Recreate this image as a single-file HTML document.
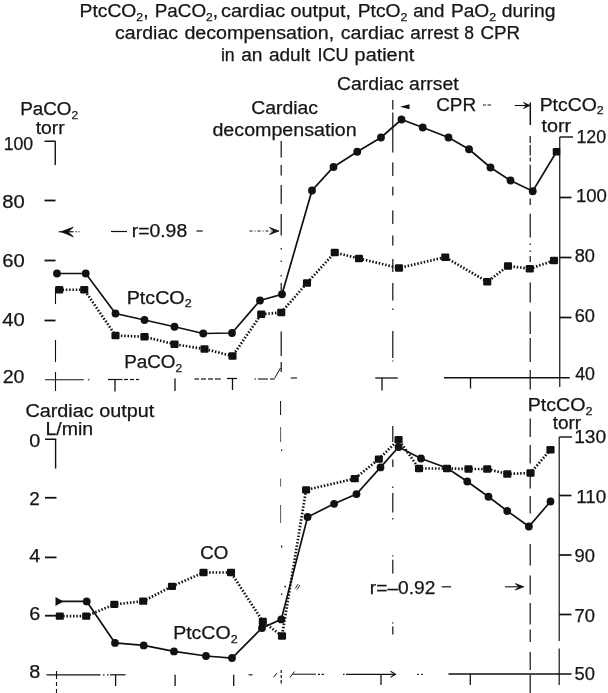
<!DOCTYPE html>
<html><head><meta charset="utf-8"><title>PtcCO2 chart</title>
<style>html,body{margin:0;padding:0;background:#fff}svg{display:block}text{fill:#151515;stroke:#151515;stroke-width:0.25px}</style></head><body>
<svg width="608" height="693" viewBox="0 0 608 693" font-family="Liberation Sans, Arial, sans-serif" fill="#111" stroke="#111">
<rect x="0" y="0" width="608" height="693" fill="#fff" stroke="none"/>
<text x="79.60" y="16.85" font-size="18" textLength="69.00" lengthAdjust="spacingAndGlyphs">PtcCO<tspan font-size="11.5" dy="3.8">2</tspan><tspan dy="-3.8">,</tspan></text>
<text x="154.80" y="16.85" font-size="18" textLength="63.20" lengthAdjust="spacingAndGlyphs">PaCO<tspan font-size="11.5" dy="3.8">2</tspan><tspan dy="-3.8">,</tspan></text>
<text x="221.00" y="16.85" font-size="18" textLength="64.20" lengthAdjust="spacingAndGlyphs">cardiac</text>
<text x="290.60" y="16.85" font-size="18" textLength="60.40" lengthAdjust="spacingAndGlyphs">output,</text>
<text x="357.70" y="16.85" font-size="18" textLength="49.70" lengthAdjust="spacingAndGlyphs">PtcO<tspan font-size="11.5" dy="3.8">2</tspan></text>
<text x="413.20" y="16.85" font-size="18" textLength="31.20" lengthAdjust="spacingAndGlyphs">and</text>
<text x="450.90" y="16.85" font-size="18" textLength="45.10" lengthAdjust="spacingAndGlyphs">PaO<tspan font-size="11.5" dy="3.8">2</tspan></text>
<text x="501.80" y="16.85" font-size="18" textLength="53.60" lengthAdjust="spacingAndGlyphs">during</text>
<text x="115.10" y="39.35" font-size="18" textLength="62.90" lengthAdjust="spacingAndGlyphs">cardiac</text>
<text x="184.40" y="39.35" font-size="18" textLength="149.80" lengthAdjust="spacingAndGlyphs">decompensation,</text>
<text x="340.80" y="39.35" font-size="18" textLength="63.20" lengthAdjust="spacingAndGlyphs">cardiac</text>
<text x="410.20" y="39.35" font-size="18" textLength="48.40" lengthAdjust="spacingAndGlyphs">arrest</text>
<text x="464.20" y="39.35" font-size="18" textLength="9.70" lengthAdjust="spacingAndGlyphs">8</text>
<text x="480.40" y="39.35" font-size="18" textLength="39.60" lengthAdjust="spacingAndGlyphs">CPR</text>
<text x="220.90" y="61.35" font-size="18" textLength="13.80" lengthAdjust="spacingAndGlyphs">in</text>
<text x="241.20" y="61.35" font-size="18" textLength="21.30" lengthAdjust="spacingAndGlyphs">an</text>
<text x="268.90" y="61.35" font-size="18" textLength="41.30" lengthAdjust="spacingAndGlyphs">adult</text>
<text x="317.40" y="61.35" font-size="18" textLength="31.10" lengthAdjust="spacingAndGlyphs">ICU</text>
<text x="354.60" y="61.35" font-size="18" textLength="59.60" lengthAdjust="spacingAndGlyphs">patient</text>
<text x="20.20" y="114.85" font-size="18" textLength="58.00" lengthAdjust="spacingAndGlyphs">PaCO<tspan font-size="11.5" dy="3.8">2</tspan></text>
<text x="35.70" y="134.35" font-size="18" textLength="29.00" lengthAdjust="spacingAndGlyphs">torr</text>
<text x="3.70" y="150.10" font-size="18" textLength="29.50" lengthAdjust="spacingAndGlyphs">100</text>
<text x="2.20" y="207.85" font-size="18" textLength="22.50" lengthAdjust="spacingAndGlyphs">80</text>
<text x="2.20" y="266.60" font-size="18" textLength="22.50" lengthAdjust="spacingAndGlyphs">60</text>
<text x="2.20" y="325.60" font-size="18" textLength="22.50" lengthAdjust="spacingAndGlyphs">40</text>
<text x="2.70" y="383.35" font-size="18" textLength="21.75" lengthAdjust="spacingAndGlyphs">20</text>
<text x="251.20" y="114.35" font-size="18" textLength="66.75" lengthAdjust="spacingAndGlyphs">Cardiac</text>
<text x="212.45" y="135.60" font-size="18" textLength="144.25" lengthAdjust="spacingAndGlyphs">decompensation</text>
<text x="336.95" y="90.10" font-size="18" textLength="121.75" lengthAdjust="spacingAndGlyphs">Cardiac arrset</text>
<text x="436.20" y="111.10" font-size="18" textLength="40.00" lengthAdjust="spacingAndGlyphs">CPR</text>
<text x="539.70" y="110.60" font-size="18" textLength="64.00" lengthAdjust="spacingAndGlyphs">PtcCO<tspan font-size="11.5" dy="3.8">2</tspan></text>
<text x="541.45" y="132.35" font-size="18" textLength="29.75" lengthAdjust="spacingAndGlyphs">torr</text>
<text x="576.45" y="143.10" font-size="18" textLength="29.75" lengthAdjust="spacingAndGlyphs">120</text>
<text x="575.95" y="201.85" font-size="18" textLength="31.00" lengthAdjust="spacingAndGlyphs">100</text>
<text x="574.70" y="262.35" font-size="18" textLength="20.25" lengthAdjust="spacingAndGlyphs">80</text>
<text x="574.70" y="321.60" font-size="18" textLength="20.25" lengthAdjust="spacingAndGlyphs">60</text>
<text x="575.20" y="379.60" font-size="18" textLength="19.75" lengthAdjust="spacingAndGlyphs">40</text>
<text x="131.70" y="237.35" font-size="18" textLength="55.50" lengthAdjust="spacingAndGlyphs">r=0.98</text>
<text x="126.70" y="303.60" font-size="18" textLength="65.00" lengthAdjust="spacingAndGlyphs">PtcCO<tspan font-size="11.5" dy="3.8">2</tspan></text>
<text x="124.20" y="367.85" font-size="18" textLength="58.00" lengthAdjust="spacingAndGlyphs">PaCO<tspan font-size="11.5" dy="3.8">2</tspan></text>
<text x="25.45" y="416.60" font-size="18" textLength="128.75" lengthAdjust="spacingAndGlyphs">Cardiac output</text>
<text x="45.45" y="435.35" font-size="18" textLength="47.75" lengthAdjust="spacingAndGlyphs">L/min</text>
<text x="29.20" y="446.60" font-size="18" textLength="11.00" lengthAdjust="spacingAndGlyphs">0</text>
<text x="29.20" y="504.60" font-size="18" textLength="10.50" lengthAdjust="spacingAndGlyphs">2</text>
<text x="29.20" y="562.30" font-size="18" textLength="11.00" lengthAdjust="spacingAndGlyphs">4</text>
<text x="29.20" y="620.10" font-size="18" textLength="11.00" lengthAdjust="spacingAndGlyphs">6</text>
<text x="29.20" y="678.40" font-size="18" textLength="11.00" lengthAdjust="spacingAndGlyphs">8</text>
<text x="200.20" y="559.00" font-size="18" textLength="28.00" lengthAdjust="spacingAndGlyphs">CO</text>
<text x="173.20" y="638.90" font-size="18" textLength="64.40" lengthAdjust="spacingAndGlyphs">PtcCO<tspan font-size="11.5" dy="3.8">2</tspan></text>
<text x="527.70" y="411.10" font-size="18" textLength="64.75" lengthAdjust="spacingAndGlyphs">PtcCO<tspan font-size="11.5" dy="3.8">2</tspan></text>
<text x="552.70" y="428.60" font-size="18" textLength="28.50" lengthAdjust="spacingAndGlyphs">torr</text>
<text x="574.20" y="443.40" font-size="18" textLength="32.00" lengthAdjust="spacingAndGlyphs">130</text>
<text x="576.20" y="502.60" font-size="18" textLength="30.00" lengthAdjust="spacingAndGlyphs">110</text>
<text x="574.50" y="562.30" font-size="18" textLength="20.40" lengthAdjust="spacingAndGlyphs">90</text>
<text x="574.50" y="621.90" font-size="18" textLength="20.40" lengthAdjust="spacingAndGlyphs">70</text>
<text x="574.50" y="679.60" font-size="18" textLength="20.40" lengthAdjust="spacingAndGlyphs">50</text>
<text x="369.80" y="594.20" font-size="18" textLength="65.60" lengthAdjust="spacingAndGlyphs">r=–0.92</text>
<line x1="44.50" y1="141.25" x2="55.50" y2="141.25" stroke-width="1.5"/>
<line x1="55.25" y1="141.25" x2="55.25" y2="165.00" stroke-width="1.4"/>
<line x1="44.50" y1="200.50" x2="55.50" y2="200.50" stroke-width="1.8"/>
<line x1="44.50" y1="260.50" x2="55.50" y2="260.50" stroke-width="1.8"/>
<line x1="44.50" y1="320.50" x2="55.50" y2="320.50" stroke-width="1.8"/>
<line x1="55.50" y1="288.00" x2="55.50" y2="304.00" stroke-width="1.1"/>
<line x1="55.50" y1="340.00" x2="55.50" y2="362.00" stroke-width="1.1"/>
<line x1="55.50" y1="372.00" x2="55.50" y2="391.00" stroke-width="1.1"/>
<line x1="45.00" y1="379.75" x2="83.75" y2="379.75" stroke-width="1.2"/>
<line x1="88.00" y1="379.75" x2="89.50" y2="379.75" stroke-width="1.2"/>
<line x1="108.00" y1="379.50" x2="122.50" y2="379.50" stroke-width="1.2"/>
<line x1="124.00" y1="379.50" x2="128.00" y2="379.50" stroke-width="1.2"/>
<line x1="130.00" y1="379.50" x2="134.00" y2="379.50" stroke-width="1.2"/>
<line x1="136.00" y1="379.50" x2="139.00" y2="379.50" stroke-width="1.2"/>
<line x1="115.00" y1="379.50" x2="115.00" y2="391.50" stroke-width="1.3"/>
<line x1="175.00" y1="378.50" x2="175.00" y2="391.00" stroke-width="1.3"/>
<line x1="194.50" y1="379.00" x2="199.00" y2="379.00" stroke-width="1.2"/>
<line x1="201.00" y1="379.00" x2="206.00" y2="379.00" stroke-width="1.2"/>
<line x1="208.00" y1="379.00" x2="213.00" y2="379.00" stroke-width="1.2"/>
<line x1="215.00" y1="379.00" x2="220.75" y2="379.00" stroke-width="1.2"/>
<line x1="227.00" y1="378.50" x2="237.00" y2="378.50" stroke-width="1.3"/>
<line x1="232.50" y1="378.50" x2="232.50" y2="390.00" stroke-width="1.3"/>
<line x1="254.50" y1="379.00" x2="256.00" y2="379.00" stroke-width="1.1"/>
<line x1="258.00" y1="379.00" x2="268.00" y2="379.00" stroke-width="1.1"/>
<line x1="270.00" y1="379.00" x2="274.50" y2="379.00" stroke-width="1.1"/>
<line x1="274.50" y1="378.50" x2="280.50" y2="368.00" stroke-width="1"/>
<line x1="290.75" y1="378.00" x2="297.00" y2="378.00" stroke-width="1.1"/>
<line x1="375.25" y1="378.00" x2="397.75" y2="378.00" stroke-width="1.3"/>
<line x1="382.00" y1="378.00" x2="382.00" y2="390.50" stroke-width="1.3"/>
<line x1="444.00" y1="377.75" x2="569.75" y2="377.75" stroke-width="1.3"/>
<line x1="470.50" y1="377.75" x2="470.50" y2="388.50" stroke-width="1.3"/>
<line x1="559.75" y1="137.00" x2="559.75" y2="387.00" stroke-width="1.2"/>
<line x1="559.75" y1="137.00" x2="573.00" y2="137.00" stroke-width="1.4"/>
<line x1="559.75" y1="197.50" x2="571.50" y2="197.50" stroke-width="1.7"/>
<line x1="559.75" y1="257.50" x2="571.50" y2="257.50" stroke-width="1.7"/>
<line x1="559.75" y1="317.50" x2="571.50" y2="317.50" stroke-width="1.7"/>
<line x1="281.20" y1="141.00" x2="281.20" y2="157.50" stroke-width="1.2"/>
<line x1="281.20" y1="165.00" x2="281.20" y2="175.50" stroke-width="1.2"/>
<line x1="281.20" y1="185.00" x2="281.20" y2="204.00" stroke-width="1.2"/>
<line x1="281.20" y1="214.00" x2="281.20" y2="235.50" stroke-width="1.2"/>
<line x1="281.20" y1="283.00" x2="281.20" y2="290.50" stroke-width="1.2"/>
<line x1="281.20" y1="331.50" x2="281.20" y2="356.00" stroke-width="1.2"/>
<line x1="281.20" y1="362.00" x2="281.20" y2="372.00" stroke-width="1.2"/>
<line x1="281.20" y1="670.00" x2="281.20" y2="673.00" stroke-width="1.2"/>
<line x1="281.20" y1="675.00" x2="281.20" y2="678.00" stroke-width="1.2"/>
<line x1="281.20" y1="680.00" x2="281.20" y2="683.50" stroke-width="1.2"/>
<line x1="280.60" y1="401.00" x2="280.60" y2="415.00" stroke-width="1"/>
<line x1="280.60" y1="427.00" x2="280.60" y2="442.00" stroke-width="0.7"/>
<line x1="280.60" y1="478.50" x2="280.60" y2="486.50" stroke-width="0.7"/>
<line x1="280.60" y1="505.00" x2="280.60" y2="523.00" stroke-width="0.7"/>
<line x1="281.20" y1="248.00" x2="281.20" y2="249.50" stroke-width="1.2"/>
<line x1="281.20" y1="260.50" x2="281.20" y2="262.00" stroke-width="1.2"/>
<line x1="281.20" y1="275.00" x2="281.20" y2="276.50" stroke-width="1.2"/>
<line x1="281.60" y1="449.50" x2="281.60" y2="451.00" stroke-width="1.2"/>
<line x1="281.60" y1="545.50" x2="281.60" y2="547.50" stroke-width="1.2"/>
<line x1="281.60" y1="593.50" x2="281.60" y2="595.00" stroke-width="1.2"/>
<circle cx="285.2" cy="586.6" r="0.9" stroke="none"/>
<line x1="295.20" y1="588.50" x2="298.20" y2="584.00" stroke-width="0.9"/>
<line x1="297.00" y1="589.50" x2="300.00" y2="585.00" stroke-width="0.9"/>
<line x1="392.80" y1="100.00" x2="392.80" y2="109.50" stroke-width="1.2"/>
<line x1="392.80" y1="112.50" x2="392.80" y2="152.50" stroke-width="1.2"/>
<line x1="392.80" y1="162.50" x2="392.80" y2="176.00" stroke-width="1.2"/>
<line x1="392.80" y1="186.75" x2="392.80" y2="195.50" stroke-width="1.2"/>
<line x1="392.80" y1="210.50" x2="392.80" y2="224.00" stroke-width="1.2"/>
<line x1="392.80" y1="235.50" x2="392.80" y2="245.50" stroke-width="1.2"/>
<line x1="392.80" y1="259.00" x2="392.80" y2="272.00" stroke-width="1.2"/>
<line x1="392.80" y1="283.00" x2="392.80" y2="300.50" stroke-width="1.2"/>
<line x1="392.80" y1="308.50" x2="392.80" y2="310.00" stroke-width="1.2"/>
<line x1="392.80" y1="331.00" x2="392.80" y2="358.00" stroke-width="1.2"/>
<line x1="392.80" y1="360.50" x2="392.80" y2="361.50" stroke-width="1.2"/>
<line x1="392.80" y1="426.00" x2="392.80" y2="442.00" stroke-width="1.2"/>
<line x1="392.80" y1="459.50" x2="392.80" y2="467.00" stroke-width="1.2"/>
<line x1="392.80" y1="486.50" x2="392.80" y2="488.00" stroke-width="1.2"/>
<line x1="392.80" y1="493.00" x2="392.80" y2="512.50" stroke-width="1.2"/>
<line x1="392.80" y1="518.00" x2="392.80" y2="519.50" stroke-width="1.2"/>
<line x1="392.80" y1="555.30" x2="392.80" y2="556.50" stroke-width="1.2"/>
<line x1="392.80" y1="559.80" x2="392.80" y2="573.50" stroke-width="1.2"/>
<line x1="392.80" y1="622.30" x2="392.80" y2="623.50" stroke-width="1.2"/>
<line x1="392.80" y1="626.50" x2="392.80" y2="634.50" stroke-width="1.2"/>
<line x1="530.30" y1="102.50" x2="530.30" y2="125.00" stroke-width="1.5"/>
<line x1="530.20" y1="136.00" x2="530.20" y2="143.00" stroke-width="1.2"/>
<line x1="530.20" y1="145.00" x2="530.20" y2="155.40" stroke-width="1.2"/>
<line x1="530.20" y1="157.50" x2="530.20" y2="161.50" stroke-width="1.2"/>
<line x1="530.20" y1="164.70" x2="530.20" y2="189.00" stroke-width="1.2"/>
<line x1="530.20" y1="198.60" x2="530.20" y2="205.00" stroke-width="1.2"/>
<line x1="530.20" y1="213.80" x2="530.20" y2="237.60" stroke-width="1.2"/>
<line x1="530.20" y1="243.50" x2="530.20" y2="245.00" stroke-width="1.2"/>
<line x1="530.20" y1="250.50" x2="530.20" y2="252.00" stroke-width="1.2"/>
<line x1="530.20" y1="256.00" x2="530.20" y2="262.00" stroke-width="1.2"/>
<line x1="530.20" y1="282.50" x2="530.20" y2="302.50" stroke-width="1.2"/>
<line x1="530.20" y1="311.50" x2="530.20" y2="334.00" stroke-width="1.2"/>
<line x1="530.20" y1="338.00" x2="530.20" y2="362.00" stroke-width="1.2"/>
<line x1="530.20" y1="370.00" x2="530.20" y2="389.50" stroke-width="1.2"/>
<line x1="530.20" y1="418.50" x2="530.20" y2="437.00" stroke-width="1.2"/>
<line x1="530.20" y1="445.00" x2="530.20" y2="463.50" stroke-width="1.2"/>
<line x1="530.20" y1="476.00" x2="530.20" y2="488.50" stroke-width="1.2"/>
<line x1="530.20" y1="496.00" x2="530.20" y2="513.50" stroke-width="1.2"/>
<line x1="530.20" y1="544.00" x2="530.20" y2="565.50" stroke-width="1.2"/>
<line x1="530.20" y1="575.50" x2="530.20" y2="594.40" stroke-width="1.2"/>
<line x1="530.20" y1="603.00" x2="530.20" y2="624.50" stroke-width="1.2"/>
<line x1="530.20" y1="629.50" x2="530.20" y2="642.00" stroke-width="1.2"/>
<line x1="530.20" y1="652.00" x2="530.20" y2="670.00" stroke-width="1.2"/>
<line x1="530.20" y1="675.00" x2="530.20" y2="693.00" stroke-width="1.2"/>
<line x1="58.75" y1="231.75" x2="73.50" y2="231.75" stroke-width="1.2"/>
<line x1="75.50" y1="231.75" x2="77.00" y2="231.75" stroke-width="1"/>
<line x1="78.50" y1="231.75" x2="79.50" y2="231.75" stroke-width="1"/>
<path stroke-width="1.0" d="M73.25,227.25 Q66.65,229.72 61.25,231.75 L61.25,231.75 Q66.65,233.78 73.25,236.75 L67.85,231.75 Z"/>
<line x1="111.00" y1="231.50" x2="127.00" y2="231.50" stroke-width="1.2"/>
<line x1="196.50" y1="231.00" x2="202.75" y2="231.00" stroke-width="1.2"/>
<line x1="249.50" y1="231.00" x2="274.50" y2="231.00" stroke-width="1.1" stroke-dasharray="3 2 1 2"/>
<path stroke-width="0.8" d="M269.50,227.50 L279.00,231.00 L269.50,234.50 L273.50,231.00 Z"/>
<path d="M400,106.7 L409.5,104.2 L409.5,109.2 Z" stroke="none"/>
<line x1="483.00" y1="105.00" x2="486.00" y2="105.00" stroke-width="1"/>
<line x1="487.50" y1="105.00" x2="491.00" y2="105.00" stroke-width="1"/>
<line x1="514.75" y1="105.50" x2="527.00" y2="105.50" stroke-width="1.1"/>
<path stroke-width="0.8" d="M523.50,102.50 L530.00,105.50 L523.50,108.50 L526.30,105.50 Z"/>
<line x1="441.70" y1="586.80" x2="451.00" y2="586.80" stroke-width="1.2"/>
<line x1="505.00" y1="586.80" x2="519.80" y2="586.80" stroke-width="1.1"/>
<path stroke-width="0.8" d="M515.30,583.60 L523.80,586.80 L515.30,590.00 L518.90,586.80 Z"/>
<line x1="45.00" y1="439.25" x2="56.25" y2="439.25" stroke-width="1.5"/>
<line x1="55.60" y1="439.25" x2="55.60" y2="468.50" stroke-width="1.4"/>
<line x1="45.00" y1="497.75" x2="56.50" y2="497.75" stroke-width="1.8"/>
<line x1="45.00" y1="557.40" x2="56.50" y2="557.40" stroke-width="1.8"/>
<line x1="45.00" y1="615.70" x2="56.50" y2="615.70" stroke-width="1.8"/>
<line x1="46.50" y1="674.80" x2="100.50" y2="674.80" stroke-width="1.2"/>
<line x1="103.00" y1="674.80" x2="104.50" y2="674.80" stroke-width="1.2"/>
<line x1="107.00" y1="674.80" x2="108.50" y2="674.80" stroke-width="1.2"/>
<line x1="110.00" y1="674.80" x2="125.60" y2="674.80" stroke-width="1.2"/>
<line x1="56.50" y1="671.00" x2="56.50" y2="679.00" stroke-width="1.1"/>
<line x1="56.50" y1="682.00" x2="56.50" y2="686.00" stroke-width="1.1"/>
<line x1="56.50" y1="689.00" x2="56.50" y2="693.00" stroke-width="1.1"/>
<line x1="115.60" y1="674.80" x2="115.60" y2="686.00" stroke-width="1.3"/>
<line x1="175.10" y1="674.80" x2="175.10" y2="686.00" stroke-width="1.3"/>
<line x1="233.70" y1="674.80" x2="233.70" y2="686.00" stroke-width="1.3"/>
<line x1="248.70" y1="674.80" x2="252.50" y2="674.80" stroke-width="1.1"/>
<line x1="273.40" y1="677.40" x2="277.00" y2="673.00" stroke-width="1"/>
<line x1="290.00" y1="677.40" x2="294.40" y2="671.50" stroke-width="1"/>
<line x1="293.00" y1="674.20" x2="316.00" y2="674.20" stroke-width="1"/>
<line x1="318.00" y1="674.30" x2="320.00" y2="674.30" stroke-width="1.2"/>
<line x1="321.50" y1="674.30" x2="324.00" y2="674.30" stroke-width="1.2"/>
<line x1="343.00" y1="674.30" x2="344.50" y2="674.30" stroke-width="1.2"/>
<line x1="346.00" y1="674.30" x2="395.00" y2="674.30" stroke-width="1.2"/>
<polyline fill="none" stroke-width="1.1" points="390.5,671.3 395.5,674.3 390.5,677.3"/>
<line x1="381.00" y1="674.30" x2="381.00" y2="685.00" stroke-width="1.3"/>
<line x1="417.00" y1="674.30" x2="419.00" y2="674.30" stroke-width="1"/>
<line x1="421.00" y1="674.30" x2="423.00" y2="674.30" stroke-width="1"/>
<line x1="448.50" y1="674.00" x2="571.60" y2="674.00" stroke-width="1.3"/>
<line x1="470.30" y1="674.00" x2="470.30" y2="685.00" stroke-width="1.3"/>
<line x1="559.20" y1="437.00" x2="559.20" y2="641.00" stroke-width="1.2"/>
<line x1="559.20" y1="648.40" x2="559.20" y2="685.00" stroke-width="1.2"/>
<line x1="559.20" y1="437.00" x2="572.00" y2="437.00" stroke-width="1.4"/>
<line x1="559.20" y1="495.50" x2="571.50" y2="495.50" stroke-width="1.7"/>
<line x1="559.20" y1="555.00" x2="571.50" y2="555.00" stroke-width="1.7"/>
<line x1="559.20" y1="614.50" x2="571.50" y2="614.50" stroke-width="1.7"/>
<polyline fill="none" stroke-width="1.7" points="57.00,273.50 85.75,273.50 115.50,313.50 144.50,320.00 174.50,326.75 203.25,333.50 232.00,333.00 260.00,300.50 282.00,294.25 312.00,190.50 333.50,167.00 357.25,151.75 381.00,137.50 401.50,119.50 422.75,127.50 448.50,137.50 469.00,149.25 490.50,167.50 510.50,180.50 532.75,191.25 556.50,151.75"/>
<circle cx="57.00" cy="273.50" r="3.9" stroke="none"/>
<circle cx="85.75" cy="273.50" r="3.9" stroke="none"/>
<circle cx="115.50" cy="313.50" r="3.9" stroke="none"/>
<circle cx="144.50" cy="320.00" r="3.9" stroke="none"/>
<circle cx="174.50" cy="326.75" r="3.9" stroke="none"/>
<circle cx="203.25" cy="333.50" r="3.9" stroke="none"/>
<circle cx="232.00" cy="333.00" r="3.9" stroke="none"/>
<circle cx="260.00" cy="300.50" r="3.9" stroke="none"/>
<circle cx="282.00" cy="294.25" r="3.9" stroke="none"/>
<circle cx="312.00" cy="190.50" r="3.9" stroke="none"/>
<circle cx="333.50" cy="167.00" r="3.9" stroke="none"/>
<circle cx="357.25" cy="151.75" r="3.9" stroke="none"/>
<circle cx="381.00" cy="137.50" r="3.9" stroke="none"/>
<circle cx="401.50" cy="119.50" r="3.9" stroke="none"/>
<circle cx="422.75" cy="127.50" r="3.9" stroke="none"/>
<circle cx="448.50" cy="137.50" r="3.9" stroke="none"/>
<circle cx="469.00" cy="149.25" r="3.9" stroke="none"/>
<circle cx="490.50" cy="167.50" r="3.9" stroke="none"/>
<circle cx="510.50" cy="180.50" r="3.9" stroke="none"/>
<circle cx="532.75" cy="191.25" r="3.9" stroke="none"/>
<rect x="552.75" y="148.00" width="7.5" height="7.5" rx="1.2" stroke="none"/>
<polyline fill="none" stroke-width="2.7" stroke-dasharray="1.5 1.8" points="59.25,289.75 84.25,289.75 115.50,335.50 144.50,336.75 174.50,344.25 204.50,349.00 232.50,356.00 261.25,314.25 281.25,312.50 307.00,283.00 334.75,252.50 359.00,258.50 399.00,268.00 445.25,257.25 487.25,281.75 508.00,266.00 529.75,268.75 554.00,260.50"/>
<rect x="55.20" y="286.10" width="8.1" height="7.3" rx="1.2" stroke="none"/>
<rect x="80.20" y="286.10" width="8.1" height="7.3" rx="1.2" stroke="none"/>
<rect x="111.45" y="331.85" width="8.1" height="7.3" rx="1.2" stroke="none"/>
<rect x="140.45" y="333.10" width="8.1" height="7.3" rx="1.2" stroke="none"/>
<rect x="170.45" y="340.60" width="8.1" height="7.3" rx="1.2" stroke="none"/>
<rect x="200.45" y="345.35" width="8.1" height="7.3" rx="1.2" stroke="none"/>
<rect x="228.45" y="352.35" width="8.1" height="7.3" rx="1.2" stroke="none"/>
<rect x="257.20" y="310.60" width="8.1" height="7.3" rx="1.2" stroke="none"/>
<rect x="277.20" y="308.85" width="8.1" height="7.3" rx="1.2" stroke="none"/>
<rect x="302.95" y="279.35" width="8.1" height="7.3" rx="1.2" stroke="none"/>
<rect x="330.70" y="248.85" width="8.1" height="7.3" rx="1.2" stroke="none"/>
<rect x="354.95" y="254.85" width="8.1" height="7.3" rx="1.2" stroke="none"/>
<rect x="394.95" y="264.35" width="8.1" height="7.3" rx="1.2" stroke="none"/>
<rect x="441.20" y="253.60" width="8.1" height="7.3" rx="1.2" stroke="none"/>
<rect x="483.20" y="278.10" width="8.1" height="7.3" rx="1.2" stroke="none"/>
<rect x="503.95" y="262.35" width="8.1" height="7.3" rx="1.2" stroke="none"/>
<rect x="525.70" y="265.10" width="8.1" height="7.3" rx="1.2" stroke="none"/>
<rect x="549.95" y="256.85" width="8.1" height="7.3" rx="1.2" stroke="none"/>
<polyline fill="none" stroke-width="1.7" points="59.00,601.40 86.70,601.40 115.00,642.90 143.70,645.40 174.00,651.40 206.00,656.00 232.00,658.00 262.00,628.00 281.30,619.40 307.60,517.00 334.10,503.80 356.50,494.10 380.50,467.40 398.60,447.00 421.00,458.50 447.00,468.00 467.25,481.50 488.50,496.75 507.25,511.00 528.90,526.50 550.50,501.50"/>
<circle cx="86.70" cy="601.40" r="3.9" stroke="none"/>
<circle cx="115.00" cy="642.90" r="3.9" stroke="none"/>
<circle cx="143.70" cy="645.40" r="3.9" stroke="none"/>
<circle cx="174.00" cy="651.40" r="3.9" stroke="none"/>
<circle cx="206.00" cy="656.00" r="3.9" stroke="none"/>
<circle cx="232.00" cy="658.00" r="3.9" stroke="none"/>
<circle cx="262.00" cy="628.00" r="3.9" stroke="none"/>
<circle cx="281.30" cy="619.40" r="3.9" stroke="none"/>
<circle cx="307.60" cy="517.00" r="3.9" stroke="none"/>
<circle cx="334.10" cy="503.80" r="3.9" stroke="none"/>
<circle cx="356.50" cy="494.10" r="3.9" stroke="none"/>
<circle cx="380.50" cy="467.40" r="3.9" stroke="none"/>
<circle cx="398.60" cy="447.00" r="3.9" stroke="none"/>
<circle cx="421.00" cy="458.50" r="3.9" stroke="none"/>
<circle cx="467.25" cy="481.50" r="3.9" stroke="none"/>
<circle cx="488.50" cy="496.75" r="3.9" stroke="none"/>
<circle cx="507.25" cy="511.00" r="3.9" stroke="none"/>
<circle cx="528.90" cy="526.50" r="3.9" stroke="none"/>
<circle cx="550.50" cy="501.50" r="3.9" stroke="none"/>
<path stroke="none" d="M55.5,597 L63.5,601.4 L55.5,606 Z"/>
<polyline fill="none" stroke-width="2.7" stroke-dasharray="1.5 1.8" points="59.80,616.20 86.20,616.20 114.30,604.40 143.20,601.20 172.00,586.30 203.50,572.50 231.00,572.50 262.80,621.50 282.00,636.00 306.10,489.90 354.70,478.70 378.80,459.10 398.60,439.60 419.00,468.50 447.00,468.50 468.50,469.00 487.25,469.00 507.25,474.00 530.50,473.00 550.50,449.75"/>
<rect x="55.75" y="612.55" width="8.1" height="7.3" rx="1.2" stroke="none"/>
<rect x="82.15" y="612.55" width="8.1" height="7.3" rx="1.2" stroke="none"/>
<rect x="110.25" y="600.75" width="8.1" height="7.3" rx="1.2" stroke="none"/>
<rect x="139.15" y="597.55" width="8.1" height="7.3" rx="1.2" stroke="none"/>
<rect x="167.95" y="582.65" width="8.1" height="7.3" rx="1.2" stroke="none"/>
<rect x="199.45" y="568.85" width="8.1" height="7.3" rx="1.2" stroke="none"/>
<rect x="226.95" y="568.85" width="8.1" height="7.3" rx="1.2" stroke="none"/>
<rect x="258.75" y="617.85" width="8.1" height="7.3" rx="1.2" stroke="none"/>
<rect x="277.95" y="632.35" width="8.1" height="7.3" rx="1.2" stroke="none"/>
<rect x="302.05" y="486.25" width="8.1" height="7.3" rx="1.2" stroke="none"/>
<rect x="350.65" y="475.05" width="8.1" height="7.3" rx="1.2" stroke="none"/>
<rect x="374.75" y="455.45" width="8.1" height="7.3" rx="1.2" stroke="none"/>
<rect x="394.55" y="435.95" width="8.1" height="7.3" rx="1.2" stroke="none"/>
<rect x="414.95" y="464.85" width="8.1" height="7.3" rx="1.2" stroke="none"/>
<rect x="442.95" y="464.85" width="8.1" height="7.3" rx="1.2" stroke="none"/>
<rect x="464.45" y="465.35" width="8.1" height="7.3" rx="1.2" stroke="none"/>
<rect x="483.20" y="465.35" width="8.1" height="7.3" rx="1.2" stroke="none"/>
<rect x="503.20" y="470.35" width="8.1" height="7.3" rx="1.2" stroke="none"/>
<rect x="526.45" y="469.35" width="8.1" height="7.3" rx="1.2" stroke="none"/>
<rect x="546.45" y="446.10" width="8.1" height="7.3" rx="1.2" stroke="none"/>
</svg></body></html>
